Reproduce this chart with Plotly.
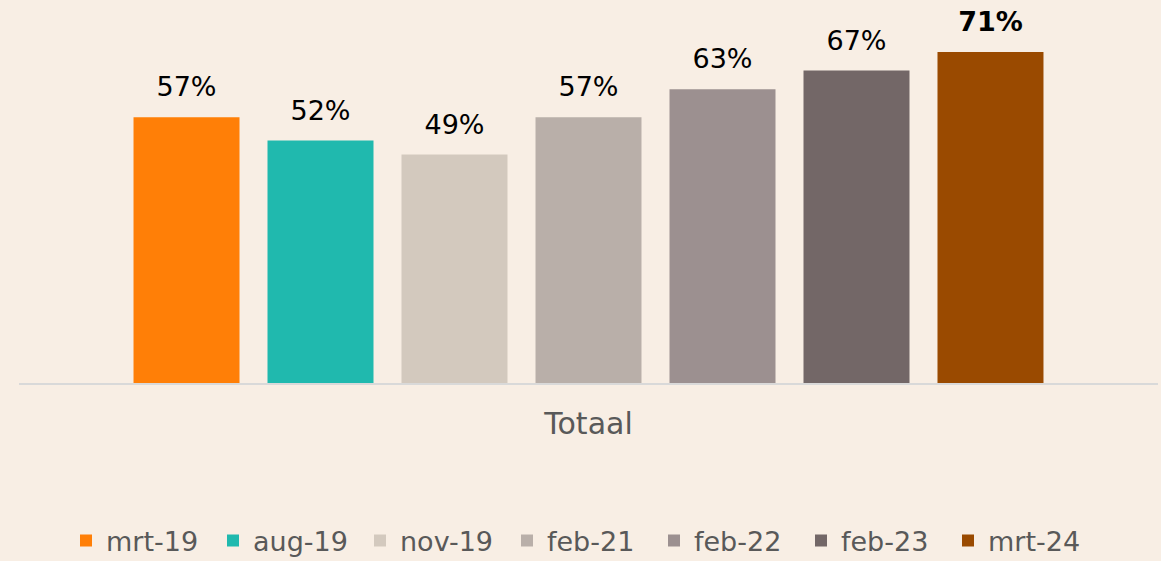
import plotly.graph_objects as go

categories = ["Totaal"]
periods = ["mrt-19", "aug-19", "nov-19", "feb-21", "feb-22", "feb-23", "mrt-24"]
values = [57, 52, 49, 57, 63, 67, 71]
colors = ["#FF7F07", "#20B9AE", "#D3C9BE", "#B9AFA9", "#9C9090", "#736767", "#9A4A00"]

FONT = "DejaVu Sans"
BG = "#F8EEE4"
GAP = 0.1765
fig = go.Figure()
for i, (p, v, c) in enumerate(zip(periods, values, colors)):
    fig.add_trace(go.Bar(
        name=p, x=categories, y=[v], marker=dict(color=c, line=dict(width=0)),
        offsetgroup=str(i), hoverinfo="skip",
    ))
for i, (p, v) in enumerate(zip(periods, values)):
    label = f"<b>{v}%</b>" if i == len(periods) - 1 else f"{v}%"
    fig.add_trace(go.Scatter(
        x=categories, y=[v], mode="markers+text", text=[label],
        textposition="top center", offsetgroup=str(i),
        marker=dict(size=21, opacity=0), showlegend=False, hoverinfo="skip",
        textfont=dict(family=FONT, size=27, color="#000000"), cliponaxis=False,
    ))

fig.update_layout(
    width=1161, height=561,
    paper_bgcolor=BG, plot_bgcolor=BG,
    barmode="group", bargap=GAP, bargroupgap=0.209,
    scattermode="group", scattergap=GAP,
    margin=dict(l=19, r=3, t=10, b=178, autoexpand=False),
    font=dict(family=FONT, color="#595959"),
    xaxis=dict(showline=True, linecolor="#D9D9D9", linewidth=2, automargin=False,
               tickfont=dict(size=30, color="#595959"), ticklabelstandoff=13),
    yaxis=dict(range=[0, 80], visible=False, showgrid=False, automargin=False),
    legend=dict(orientation="h", x=0.5, xanchor="center", xref="container",
                y=1 - 541 / 561, yanchor="middle", yref="container",
                font=dict(size=27, color="#595959"), itemwidth=30, traceorder="normal",
                entrywidth=102, entrywidthmode="pixels"),
    showlegend=True,
)
fig.write_html("out.html", config={"displayModeBar": False},
               post_script="document.body.style.margin='0';document.body.style.overflow='hidden';")
